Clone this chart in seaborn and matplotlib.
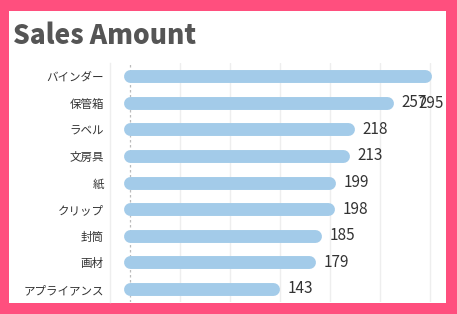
import matplotlib
matplotlib.use("Agg")
import matplotlib.pyplot as plt
import seaborn as sns
import pandas as pd
from matplotlib.patches import Rectangle

categories = ["バインダー", "保管箱", "ラベル", "文房具", "紙", "クリップ", "封筒", "画材", "アプライアンス"]
values = [295, 257, 218, 213, 199, 198, 185, 179, 143]
title = "Sales Amount"

sns.set_theme(style="white")
plt.rcParams['font.family'] = ['Noto Sans CJK JP', 'DejaVu Sans']

W, H = 457, 314
fig = plt.figure(figsize=(W / 100, H / 100), dpi=100, facecolor="#ff4f7e")
fig.patches.append(Rectangle((9 / W, 1 - 303 / H), (446 - 9) / W, (303 - 11) / H,
                             transform=fig.transFigure, facecolor="white",
                             edgecolor="none", zorder=-5))

ax = fig.add_axes([110 / W, 1 - 302.3 / H, 330 / W, 239.6 / H])
ax.set_facecolor("none")

df = pd.DataFrame({"category": categories, "value": values})
bar_color = "#a3cbe9"
sns.barplot(data=df, x="value", y="category", ax=ax, color=bar_color,
            width=0.4, saturation=1, orient="h")
# turn each seaborn bar into a rounded-cap bar
for p in list(ax.patches):
    x0, y0 = p.get_x(), p.get_y()
    w, h = p.get_width(), p.get_height()
    yc = y0 + h / 2
    p.set_visible(False)
    ax.plot([x0, x0 + w], [yc, yc], color=bar_color, linewidth=9.3,
            solid_capstyle="round", zorder=3)

ax.set_xlim(-20, 310)
ax.set_ylim(8.5, -0.5)
ax.set_xticks([50, 100, 150, 200, 250, 300])
ax.xaxis.grid(True, color="#eeeeee", linewidth=1)
ax.set_xticklabels([])
ax.axvline(0, color="#bbbbbb", linewidth=0.9, linestyle=(0, (2, 2)), zorder=2)
ax.set_xlabel("")
ax.set_ylabel("")
for s in ["top", "right", "bottom"]:
    ax.spines[s].set_visible(False)
ax.spines["left"].set_color("#eeeeee")
ax.spines["left"].set_linewidth(1)
ax.tick_params(axis="y", length=0, pad=4.5, labelsize=8.3, labelcolor="#333333")
ax.tick_params(axis="x", length=0)

for i, v in enumerate(values):
    if i == 0:
        ax.annotate(str(v), xy=(v, i), xytext=(-5, -19.5), textcoords="offset points",
                    ha="left", va="center", fontsize=11, color="#333333",
                    annotation_clip=False, zorder=4)
    else:
        ax.annotate(str(v), xy=(v, i), xytext=(10.5, 0), textcoords="offset points",
                    ha="left", va="center", fontsize=11, color="#333333",
                    annotation_clip=False, zorder=4)

fig.text(13 / W, 1 - 44 / H, title, fontsize=19, fontweight="black",
         color="#555555", ha="left", va="baseline")

fig.savefig("out.png", dpi=100, facecolor=fig.get_facecolor())
